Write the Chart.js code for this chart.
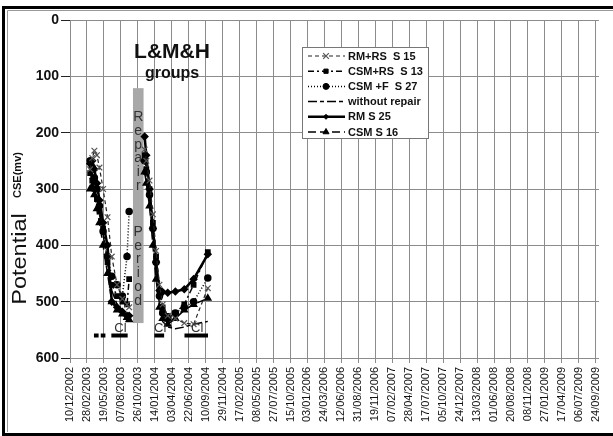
<!DOCTYPE html>
<html>
<head>
<meta charset="utf-8">
<script src="https://cdn.jsdelivr.net/npm/chart.js@4/dist/chart.umd.min.js"></script>
<style>
  html, body { margin: 0; padding: 0; background: #fff; }
  #wrap { width: 613px; height: 436px; position: relative; }
</style>
</head>
<body>
<div id="wrap"><canvas id="potentialChart" width="613" height="436"></canvas></div>
<script>
// axis dates every 80 days
const tickLabels = ['10/12/2002','28/02/2003','19/05/2003','07/08/2003','26/10/2003','14/01/2004','03/04/2004',
  '22/06/2004','10/09/2004','29/11/2004','17/02/2005','08/05/2005','27/07/2005','15/10/2005','03/01/2006',
  '24/03/2006','12/06/2006','31/08/2006','19/11/2006','07/02/2007','28/04/2007','17/07/2007','05/10/2007',
  '24/12/2007','13/03/2008','01/06/2008','20/08/2008','08/11/2008','27/01/2009','17/04/2009','06/07/2009','24/09/2009'];

// survey dates (the empty one sits inside the repair period)
const surveyDates = ['15/03/2003','25/03/2003','04/04/2003','16/04/2003','28/04/2003','15/05/2003','05/06/2003',
  '25/06/2003','20/07/2003','14/08/2003','05/09/2003','15/09/2003',
  '01/11/2003',
  '27/11/2003','05/12/2003','20/12/2003','05/01/2004','20/01/2004','05/02/2004','20/02/2004','15/03/2004',
  '20/04/2004','01/06/2004','15/07/2004','20/09/2004'];

// potential, mV CSE
const rmRsS15   = [265,245,232,240,262,300,350,420,470,495,505,510, null, 230,250,285,345,410,470,505,525,530,538,540,476];
const csmRsS13  = [272,285,300,318,340,370,430,470,490,500,505,460, null, 240,265,300,360,420,480,510,525,520,505,470,412];
const csmFS27   = [250,262,280,300,330,375,420,455,470,490,420,340, null, 250,270,310,370,430,490,520,530,520,510,500,458];
const noRepair  = [280,290,300,320,345,380,430,480,505,515,525,530, null, 260,280,320,390,450,505,535,545,548,545,540,535];
const rmS25     = [255,250,265,290,320,360,400,500,510,518,525,525, null, 207,240,300,370,430,480,483,484,482,478,460,416];
const csmS16    = [300,295,310,335,360,400,450,500,515,522,528,532, null, 270,290,330,400,460,510,530,540,530,515,505,494];

// chloride sampling marks
const clStart = ['02/04/2003','04/05/2003','23/06/2003','12/01/2004','02/06/2004'];
const clEnd   = ['24/04/2003','26/05/2003','08/09/2003','27/02/2004','21/09/2004'];
const clLevel = 560;
const clLabelled = [2, 3, 4];

const repairStart = '03/10/2003';
const repairEnd   = '22/11/2003';
const repairTop = 121;
const repairBottom = 538;

function dayOf(s) {
  const [d, m, y] = s.split('/').map(Number);
  const [d0, m0, y0] = tickLabels[0].split('/').map(Number);
  return Math.round((Date.UTC(y, m - 1, d) - Date.UTC(y0, m0 - 1, d0)) / 86400000);
}

function series(values) {
  return values.map((v, i) => ({ x: dayOf(surveyDates[i]), y: v }));
}

const clData = [];
clStart.forEach((s, i) => {
  clData.push({ x: dayOf(s), y: clLevel });
  clData.push({ x: dayOf(clEnd[i]), y: clLevel });
  clData.push({ x: dayOf(clEnd[i]) + 1, y: null });
});

const FONT = '"Liberation Sans", Arial, sans-serif';

const datasets = [
  { label: 'RM+RS  S 15', data: series(rmRsS15), borderColor: '#222', borderWidth: 1.2, borderDash: [4, 3],
    pointStyle: 'crossRot', pointRadius: 4, pointBorderColor: '#555', pointBorderWidth: 1.2, pointBackgroundColor: '#555' },
  { label: 'CSM+RS  S 13', data: series(csmRsS13), borderColor: '#000', borderWidth: 1.5, borderDash: [6, 3, 2, 3],
    pointStyle: 'rect', pointRadius: 3, pointBorderColor: '#000', pointBackgroundColor: '#000' },
  { label: 'CSM +F  S 27', data: series(csmFS27), borderColor: '#000', borderWidth: 1.5, borderDash: [1, 2],
    pointStyle: 'circle', pointRadius: 3, pointBorderColor: '#000', pointBackgroundColor: '#000' },
  { label: 'without repair', data: series(noRepair), borderColor: '#000', borderWidth: 1.5, borderDash: [9, 3, 4, 3],
    pointRadius: 0 },
  { label: 'RM S 25', data: series(rmS25), borderColor: '#000', borderWidth: 2.5,
    pointStyle: 'rectRot', pointRadius: 2.5, pointBorderColor: '#000', pointBackgroundColor: '#000' },
  { label: 'CSM S 16', data: series(csmS16), borderColor: '#000', borderWidth: 1.5, borderDash: [8, 4],
    pointStyle: 'triangle', pointRadius: 3.5, pointBorderColor: '#000', pointBackgroundColor: '#000' },
  { label: '', data: clData, borderColor: '#000', borderWidth: 4, pointRadius: 0, spanGaps: false, isChloride: true }
];

// grey repair band with the vertical caption
const repairPlugin = {
  id: 'repairBand',
  beforeDatasetsDraw(chart) {
    const { ctx, scales: { x, y } } = chart;
    const x0 = x.getPixelForValue(dayOf(repairStart));
    const x1 = x.getPixelForValue(dayOf(repairEnd));
    const y0 = y.getPixelForValue(repairTop);
    const y1 = y.getPixelForValue(repairBottom);
    ctx.save();
    ctx.fillStyle = '#a8a8a8';
    ctx.fillRect(x0, y0, x1 - x0, y1 - y0);
    ctx.fillStyle = '#333';
    ctx.font = '14px ' + FONT;
    ctx.textAlign = 'center';
    ctx.textBaseline = 'middle';
    const cx = (x0 + x1) / 2;
    const words = ['Repair', 'Period'];
    let yy = y0 + 29;
    words.forEach(w => {
      for (const ch of w) { ctx.fillText(ch, cx, yy); yy += 13.8; }
      yy += 32;
    });
    ctx.restore();
  }
};

// chloride labels, group title, legend box, y title and outer frame
const decorPlugin = {
  id: 'decor',
  afterDatasetsDraw(chart) {
    const { ctx, scales: { x, y } } = chart;
    ctx.save();

    // Cl labels
    ctx.fillStyle = '#333';
    ctx.font = '13px ' + FONT;
    ctx.textAlign = 'center';
    ctx.textBaseline = 'alphabetic';
    clLabelled.forEach(i => {
      const mid = (dayOf(clStart[i]) + dayOf(clEnd[i])) / 2;
      ctx.fillText('Cl', x.getPixelForValue(mid) + 1, y.getPixelForValue(clLevel) - 3);
    });

    // group title
    ctx.fillStyle = '#111';
    ctx.font = 'bold 21px ' + FONT;
    ctx.textBaseline = 'middle';
    ctx.fillText('L&M&H', 172, 52);
    ctx.font = 'bold 16px ' + FONT;
    ctx.fillText('groups', 172, 74);

    // legend
    const bx = 302, by = 47, bw = 126, bh = 91;
    ctx.fillStyle = '#fff';
    ctx.fillRect(bx, by, bw, bh);
    ctx.strokeStyle = '#777';
    ctx.lineWidth = 1;
    ctx.strokeRect(bx + 0.5, by + 0.5, bw, bh);
    const items = chart.data.datasets.filter(d => !d.isChloride);
    items.forEach((d, i) => {
      const ry = by + 9 + i * 15.2;
      ctx.save();
      ctx.strokeStyle = d.borderColor;
      ctx.lineWidth = d.borderWidth;
      ctx.setLineDash(d.borderDash || []);
      ctx.beginPath();
      ctx.moveTo(bx + 6, ry);
      ctx.lineTo(bx + 43, ry);
      ctx.stroke();
      ctx.setLineDash([]);
      if (d.pointRadius > 0) {
        ctx.fillStyle = d.pointBackgroundColor;
        ctx.strokeStyle = d.pointBorderColor;
        ctx.lineWidth = d.pointBorderWidth || 1;
        Chart.helpers.drawPoint(ctx, { pointStyle: d.pointStyle, radius: d.pointRadius, rotation: 0,
          borderWidth: d.pointBorderWidth || 1 }, bx + 24, ry);
      }
      ctx.restore();
      ctx.fillStyle = '#111';
      ctx.font = 'bold 11px ' + FONT;
      ctx.textAlign = 'left';
      ctx.textBaseline = 'middle';
      ctx.fillText(d.label, bx + 46, ry + 0.5);
    });

    // y axis title
    ctx.save();
    ctx.translate(20, 259);
    ctx.rotate(-Math.PI / 2);
    ctx.scale(1.12, 1);
    ctx.fillStyle = '#111';
    ctx.font = '21px ' + FONT;
    ctx.textAlign = 'center';
    ctx.textBaseline = 'middle';
    ctx.fillText('Potential', 0, 0);
    ctx.restore();
    ctx.save();
    ctx.translate(18, 175);
    ctx.rotate(-Math.PI / 2);
    ctx.scale(1.1, 1);
    ctx.fillStyle = '#111';
    ctx.font = 'bold 10px ' + FONT;
    ctx.textAlign = 'center';
    ctx.textBaseline = 'middle';
    ctx.fillText('CSE(mv)', 0, 0);
    ctx.restore();

    // frame
    ctx.strokeStyle = '#000';
    ctx.lineWidth = 3;
    ctx.beginPath();
    ctx.moveTo(3.5, 436); ctx.lineTo(3.5, 7.5); ctx.lineTo(613, 7.5);
    ctx.moveTo(2, 434.5); ctx.lineTo(613, 434.5);
    ctx.stroke();
    ctx.strokeStyle = '#999';
    ctx.lineWidth = 1;
    ctx.beginPath();
    ctx.moveTo(7.5, 432); ctx.lineTo(7.5, 10.5); ctx.lineTo(613, 10.5);
    ctx.stroke();
    ctx.restore();
  }
};

new Chart(document.getElementById('potentialChart').getContext('2d'), {
  type: 'line',
  data: { datasets: datasets },
  options: {
    responsive: false,
    animation: false,
    devicePixelRatio: 1,
    spanGaps: false,
    layout: { padding: { top: 20, left: 0, right: 0, bottom: 0 } },
    plugins: { legend: { display: false }, tooltip: { enabled: false } },
    scales: {
      x: {
        type: 'linear',
        min: 0,
        max: 2495,
        afterBuildTicks: s => { s.ticks = tickLabels.map(t => ({ value: dayOf(t) })); },
        afterFit: s => { s.height = 78; },
        ticks: {
          autoSkip: false, minRotation: 90, maxRotation: 90, padding: 4,
          color: '#111', font: { family: FONT, size: 11 },
          callback: (v, i) => tickLabels[i]
        },
        grid: { color: '#8c8c8c', lineWidth: 1, tickLength: 5, tickColor: '#8c8c8c' },
        border: { color: '#8c8c8c' }
      },
      y: {
        reverse: true,
        min: 0,
        max: 600,
        afterFit: s => { s.width = 70; },
        ticks: { stepSize: 100, padding: 2, color: '#111', font: { family: FONT, size: 14, weight: 'bold' } },
        grid: { color: '#8c8c8c', lineWidth: 1, tickLength: 9, tickColor: '#222' },
        border: { color: '#8c8c8c' }
      }
    }
  },
  plugins: [repairPlugin, decorPlugin]
});
</script>
</body>
</html>
